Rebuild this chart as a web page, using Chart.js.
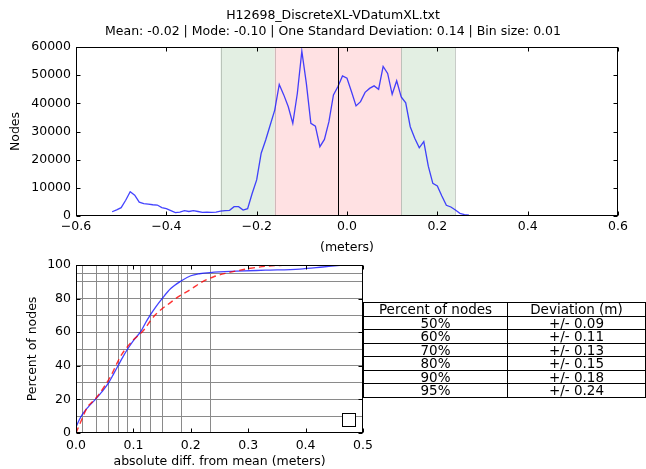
<!DOCTYPE html>
<html>
<head>
<meta charset="utf-8">
<script src="https://cdn.jsdelivr.net/npm/chart.js@4.4.0/dist/chart.umd.min.js"></script>
<style>
  html, body { margin: 0; padding: 0; background: #fff; }
  #wrap { position: relative; width: 646px; height: 469px; overflow: hidden; font-family: 'DejaVu Sans', sans-serif; }
  #histWrap { position: absolute; left: 0; top: 0; width: 646px; height: 257px; }
  #cdfWrap { position: absolute; left: 0; top: 250px; width: 646px; height: 219px; }
  #statsTable { position: absolute; left: 363px; top: 302px; width: 283px; border-collapse: collapse; font-size: 13.5px; color: #000; }
  #statsTable td { border: 1px solid #000; padding: 0; height: 12.5px; line-height: 12px; text-align: center; }
</style>
</head>
<body>
<div id="wrap">
  <div id="histWrap"><canvas id="histChart"></canvas></div>
  <div id="cdfWrap"><canvas id="cdfChart"></canvas></div>
  <table id="statsTable"></table>
</div>
<script>
// histogram of differences (bin size 0.01)
const binCenters = [
  -0.52, -0.51, -0.50, -0.49, -0.48, -0.47, -0.46, -0.45, -0.44, -0.43,
  -0.42, -0.41, -0.40, -0.39, -0.38, -0.37, -0.36, -0.35, -0.34, -0.33,
  -0.32, -0.31, -0.30, -0.29, -0.28, -0.27, -0.26, -0.25, -0.24, -0.23,
  -0.22, -0.21, -0.20, -0.19, -0.18, -0.17, -0.16, -0.15, -0.14, -0.13,
  -0.12, -0.11, -0.10, -0.09, -0.08, -0.07, -0.06, -0.05, -0.04, -0.03,
  -0.02, -0.01, 0.00, 0.01, 0.02, 0.03, 0.04, 0.05, 0.06, 0.07,
  0.08, 0.09, 0.10, 0.11, 0.12, 0.13, 0.14, 0.15, 0.16, 0.17,
  0.18, 0.19, 0.20, 0.21, 0.22, 0.23, 0.24, 0.25, 0.26, 0.27
];
const nodeCounts = [
  1500, 2200, 2950, 5600, 8600, 7400, 4900, 4400, 4200, 4000,
  3900, 3000, 2600, 1900, 1200, 1400, 1900, 1600, 1900, 1600,
  1300, 1400, 1300, 1400, 1700, 1900, 2000, 3300, 3300, 2100,
  2600, 8000, 12800, 22300, 27000, 32300, 37600, 46700, 43000, 38800,
  32900, 43500, 58500, 47100, 32900, 31900, 24600, 27200, 33500, 43000,
  46000, 49700, 48900, 44100, 39100, 40600, 43900, 45300, 46200, 45000,
  53100, 50600, 43200, 48000, 42300, 40200, 31700, 27600, 24200, 26400,
  17700, 11600, 10700, 7100, 3800, 3200, 2100, 950, 500, 300
];
const meanValue = -0.02;
const oneSigmaBand = [-0.16, 0.12];
const twoSigmaBand = [-0.28, 0.24];
const histXTicks = [-0.6, -0.4, -0.2, 0.0, 0.2, 0.4, 0.6];
const histYTicks = [0, 10000, 20000, 30000, 40000, 50000, 60000];

// cumulative curves
const observedDiff = [0, 0.006, 0.012, 0.02, 0.035, 0.045, 0.057, 0.066, 0.074, 0.082, 0.09, 0.1, 0.113, 0.121, 0.129, 0.14, 0.15, 0.165, 0.183, 0.2, 0.215, 0.234, 0.28, 0.33, 0.39, 0.43, 0.455, 0.47];
const observedPct  = [3.5, 8, 11.5, 15, 20.5, 24.5, 30, 35.5, 40.5, 45.5, 50, 55, 60.5, 65.5, 70, 75.5, 80, 86, 90.5, 93.6, 94.8, 95.5, 96.3, 96.9, 97.6, 98.8, 99.6, 100];
const normalDiff = [0, 0.01, 0.02, 0.03, 0.04, 0.05, 0.06, 0.07, 0.08, 0.09, 0.10, 0.11, 0.12, 0.13, 0.14, 0.15, 0.16, 0.18, 0.20, 0.22, 0.24, 0.26, 0.28, 0.30, 0.33, 0.36, 0.40, 0.50];
const normalPct  = [0, 8, 15.5, 19, 23, 28, 33.5, 40.5, 47, 51.5, 55.5, 58.5, 62, 67, 71, 74, 76.5, 81.5, 85.5, 90, 93, 95, 96.5, 97.8, 99.2, 99.8, 100, 100];
const pctLevels = [10, 20, 30, 40, 50, 60, 70, 80, 90, 95];
const pctDeviation = [0.012, 0.035, 0.057, 0.074, 0.09, 0.113, 0.129, 0.15, 0.183, 0.234];
const cdfXTicks = [0.0, 0.1, 0.2, 0.3, 0.4, 0.5];
const cdfYTicks = [0, 20, 40, 60, 80, 100];

// table
const tablePercent = ['50%', '60%', '70%', '80%', '90%', '95%'];
const tableDeviation = ['+/- 0.09', '+/- 0.11', '+/- 0.13', '+/- 0.15', '+/- 0.18', '+/- 0.24'];

Chart.defaults.font.family = "'DejaVu Sans', sans-serif";
Chart.defaults.font.size = 12.5;
Chart.defaults.color = '#000';
Chart.defaults.animation = false;

const fmtMinus = v => v.toFixed(1).replace('-', '\u2212');

// box around plot + inward tick marks
const framePlugin = {
  id: 'frame',
  afterDatasetsDraw(chart, args, opts) {
    const { ctx, chartArea: a, scales: { x, y } } = chart;
    const L = Math.round(a.left) + 0.5, R = Math.round(a.right) - 0.5;
    const T = Math.round(a.top) + 0.5, B = Math.round(a.bottom) - 0.5;
    ctx.save();
    ctx.strokeStyle = '#000';
    ctx.lineWidth = 1;
    ctx.beginPath();
    opts.xTicks.forEach(v => {
      const px = Math.round(x.getPixelForValue(v)) + 0.5;
      ctx.moveTo(px, T); ctx.lineTo(px, T + 4);
      ctx.moveTo(px, B); ctx.lineTo(px, B - 4);
    });
    opts.yTicks.forEach(v => {
      const py = Math.round(y.getPixelForValue(v)) + 0.5;
      ctx.moveTo(L, py); ctx.lineTo(L + 4, py);
      ctx.moveTo(R, py); ctx.lineTo(R - 4, py);
    });
    if (opts.markX !== undefined) {
      const mx = Math.round(x.getPixelForValue(opts.markX)) + 0.5;
      ctx.moveTo(mx, T); ctx.lineTo(mx, B);
    }
    ctx.stroke();
    ctx.strokeRect(L, T, R - L, B - T);
    ctx.restore();
  }
};

// shaded deviation bands
const bandPlugin = {
  id: 'bands',
  beforeDatasetsDraw(chart) {
    const { ctx, chartArea: a, scales: { x } } = chart;
    const bands = [
      { range: twoSigmaBand, color: '#e3efe3' },
      { range: oneSigmaBand, color: '#ffe1e3' }
    ];
    ctx.save();
    bands.forEach(b => {
      const x0 = x.getPixelForValue(b.range[0]);
      const x1 = x.getPixelForValue(b.range[1]);
      ctx.fillStyle = b.color;
      ctx.fillRect(x0, a.top, x1 - x0, a.bottom - a.top);
      ctx.strokeStyle = 'rgba(0,0,0,0.18)';
      ctx.beginPath();
      [x0, x1].forEach(px => { ctx.moveTo(Math.round(px) + 0.5, a.top); ctx.lineTo(Math.round(px) + 0.5, a.bottom); });
      ctx.stroke();
    });
    ctx.restore();
  }
};

const titlePlugin = {
  id: 'twoLineTitle',
  afterDraw(chart) {
    const { ctx } = chart;
    ctx.save();
    ctx.fillStyle = '#000';
    ctx.font = "12.5px 'DejaVu Sans'";
    ctx.textAlign = 'center';
    ctx.textBaseline = 'middle';
    ctx.fillText('H12698_DiscreteXL-VDatumXL.txt', 333, 16);
    ctx.fillText('Mean: -0.02 | Mode: -0.10 | One Standard Deviation: 0.14 | Bin size: 0.01', 333, 32);
    ctx.restore();
  }
};

// empty legend frame in the lower right
const emptyLegendPlugin = {
  id: 'emptyLegend',
  afterDraw(chart) {
    const { ctx, chartArea: a } = chart;
    ctx.save();
    ctx.fillStyle = '#fff';
    ctx.strokeStyle = '#000';
    ctx.lineWidth = 1;
    const x0 = Math.round(a.right - 21) + 0.5, y0 = Math.round(a.bottom - 20) + 0.5;
    ctx.fillRect(x0, y0, 13, 13);
    ctx.strokeRect(x0, y0, 13, 13);
    ctx.restore();
  }
};

new Chart(document.getElementById('histChart'), {
  type: 'line',
  data: {
    datasets: [
      {
        data: binCenters.map((b, i) => ({ x: b, y: nodeCounts[i] })),
        borderColor: 'rgba(20,20,255,0.8)', borderWidth: 1.3, pointRadius: 0, tension: 0
      }
    ]
  },
  options: {
    responsive: true, maintainAspectRatio: false,
    layout: { padding: { top: 47, right: 28, left: 0, bottom: 0 } },
    plugins: {
      legend: { display: false }, tooltip: { enabled: false },
      frame: { xTicks: histXTicks, yTicks: histYTicks, markX: meanValue }
    },
    scales: {
      x: {
        type: 'linear', min: -0.6, max: 0.6,
        afterBuildTicks: s => { s.ticks = histXTicks.map(v => ({ value: v })); },
        afterFit: s => { s.height = 41; },
        grid: { display: false, drawTicks: false }, border: { display: false },
        ticks: { padding: 3, maxRotation: 0, autoSkip: false, callback: v => fmtMinus(v) },
        title: { display: true, text: '(meters)', padding: { top: 0, bottom: 2 } }
      },
      y: {
        min: 0, max: 60000,
        afterBuildTicks: s => { s.ticks = histYTicks.map(v => ({ value: v })); },
        afterFit: s => { s.width = 76; },
        grid: { display: false, drawTicks: false }, border: { display: false },
        ticks: { padding: 5, callback: v => String(v) },
        title: { display: true, text: 'Nodes', padding: { top: 8, bottom: 0 } }
      }
    }
  },
  plugins: [bandPlugin, framePlugin, titlePlugin]
});

const cdfXGrid = [...cdfXTicks, ...pctDeviation].sort((a, b) => a - b);
const cdfYGrid = [...cdfYTicks, ...pctLevels.filter(p => !cdfYTicks.includes(p))].sort((a, b) => a - b);

new Chart(document.getElementById('cdfChart'), {
  type: 'line',
  data: {
    datasets: [
      {
        data: normalDiff.map((d, i) => ({ x: d, y: normalPct[i] })),
        borderColor: 'rgba(255,0,0,0.8)', borderWidth: 1.4, borderDash: [6, 4],
        pointRadius: 0, cubicInterpolationMode: 'monotone'
      },
      {
        data: observedDiff.map((d, i) => ({ x: d, y: observedPct[i] })),
        borderColor: 'rgba(20,20,255,0.8)', borderWidth: 1.3,
        pointRadius: 0, cubicInterpolationMode: 'monotone'
      }
    ]
  },
  options: {
    responsive: true, maintainAspectRatio: false,
    layout: { padding: { top: 15, right: 283, left: 0, bottom: 0 } },
    plugins: {
      legend: { display: false }, tooltip: { enabled: false },
      frame: { xTicks: cdfXTicks, yTicks: cdfYTicks }
    },
    scales: {
      x: {
        type: 'linear', min: 0, max: 0.5,
        afterBuildTicks: s => { s.ticks = cdfXGrid.map(v => ({ value: v })); },
        afterFit: s => { s.height = 36; },
        grid: {
          drawTicks: false,
          color: c => (c.tick && pctDeviation.includes(c.tick.value)) ? '#8a8a8a' : 'rgba(0,0,0,0)'
        },
        border: { display: false },
        ticks: {
          padding: 5, maxRotation: 0, minRotation: 0, autoSkip: false,
          callback: v => cdfXTicks.includes(v) ? v.toFixed(1) : ''
        },
        title: { display: true, text: 'absolute diff. from mean (meters)', padding: { top: 0, bottom: 0 } }
      },
      y: {
        min: 0, max: 100,
        afterBuildTicks: s => { s.ticks = cdfYGrid.map(v => ({ value: v })); },
        afterFit: s => { s.width = 76; },
        grid: {
          drawTicks: false,
          color: c => (c.tick && pctLevels.includes(c.tick.value)) ? '#8a8a8a' : 'rgba(0,0,0,0)'
        },
        border: { display: false },
        ticks: { padding: 5, autoSkip: false, callback: v => cdfYTicks.includes(v) ? String(v) : '' },
        title: { display: true, text: 'Percent of nodes', padding: { top: 25, bottom: 0 } }
      }
    }
  },
  plugins: [framePlugin, emptyLegendPlugin]
});

// deviation table
const table = document.getElementById('statsTable');
const rows = [['Percent of nodes', 'Deviation (m)']].concat(tablePercent.map((p, i) => [p, tableDeviation[i]]));
table.innerHTML = rows.map(r => `<tr><td style="width:143px">${r[0]}</td><td>${r[1]}</td></tr>`).join('');
</script>
</body>
</html>
